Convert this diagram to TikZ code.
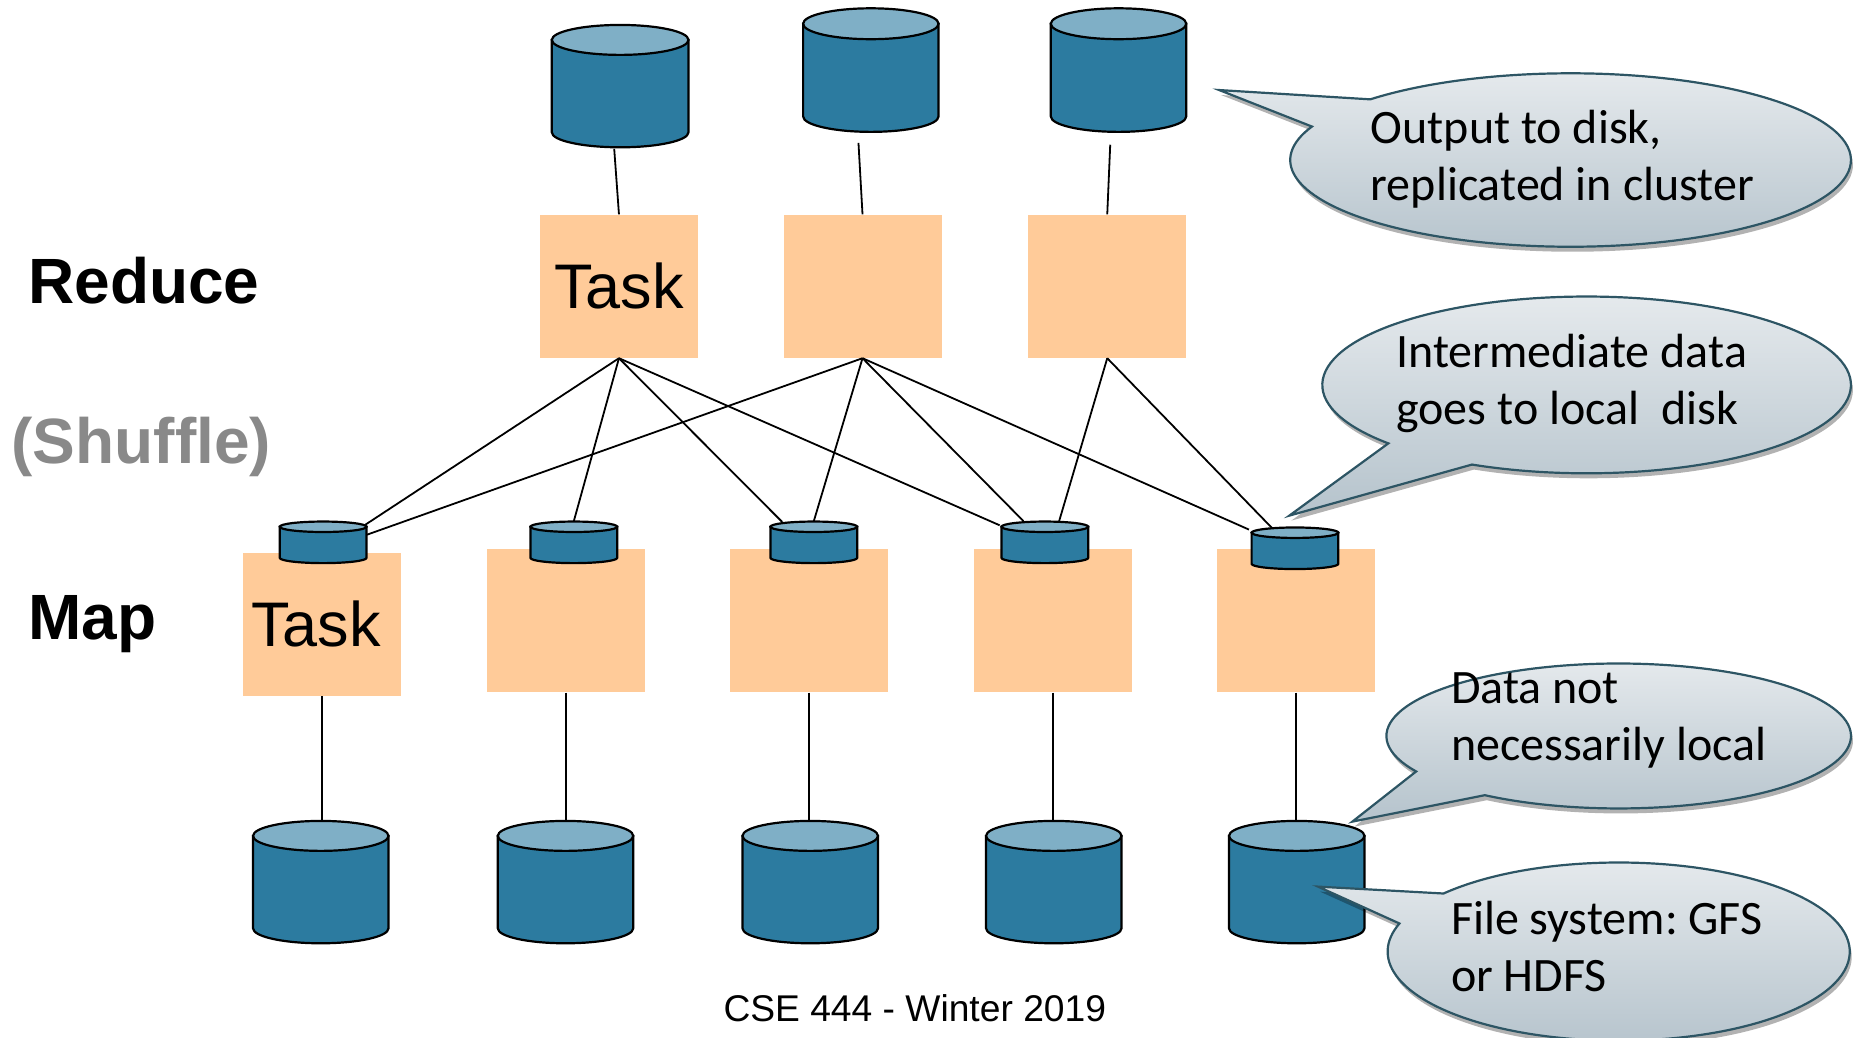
\documentclass[tikz,border=0pt]{standalone}
\usepackage{fontspec}
\setmainfont{Liberation Sans}
\newfontfamily\calfont{Carlito}
\usetikzlibrary{calc,shadows}
\definecolor{boxfill}{RGB}{255,203,153}
\definecolor{cylbody}{RGB}{44,123,160}
\definecolor{cyltop}{RGB}{127,175,198}
\definecolor{shufgray}{RGB}{137,137,137}
\definecolor{callborder}{RGB}{45,85,100}
\definecolor{calltop}{RGB}{231,235,238}
\definecolor{callbot}{RGB}{181,195,204}
\frenchspacing
\newcommand{\dbcyl}[6]{%
  \node[cylframe, minimum width={2*#4*0.594pt}, minimum height={#5*0.594pt}] (#1) at (#2,{-(#3+#5/2)}) {};
  \filldraw[cylbodystyle] ({#2-#4},{-(#3+#6)}) -- ({#2-#4},{-(#3+#5-#6)}) arc[start angle=180,end angle=360,x radius=#4,y radius=#6] -- ({#2+#4},{-(#3+#6)}) -- cycle;
  \filldraw[cyltopstyle] (#2,{-(#3+#6)}) ellipse[x radius=#4, y radius=#6];
}
\newcommand{\twol}[3]{\vtop{\baselineskip=#1\hbox{#2}\hbox{#3}}}
\begin{document}
\begin{tikzpicture}[x=0.594pt, y=0.594pt,
  cylframe/.style={inner sep=0pt, draw=none},
  cylbodystyle/.style={fill=cylbody, draw=black, line width=1.1pt},
  cyltopstyle/.style={fill=cyltop, draw=black, line width=1.1pt},
  taskbox/.style={fill=boxfill, draw=none, inner sep=0pt, minimum width=79pt, minimum height=71.5pt, font=\fontsize{31.5}{36}\selectfont},
  conn/.style={draw=black, line width=0.9pt},
  lbl/.style={inner sep=0pt, anchor=base west, font=\bfseries\fontsize{32}{36}\selectfont},
  bubble/.style={draw=callborder, line width=1.1pt, top color=calltop, bottom color=callbot,
     drop shadow={shadow xshift=1pt, shadow yshift=-2.5pt, opacity=0.3, fill=black}},
  calltext/.style={inner sep=0pt, anchor=base west, font=\calfont\fontsize{24}{28}\selectfont}
]
\useasboundingbox (0,0) rectangle (1563.1,-873.7);

% labels
\node[lbl] (reduce) at (23.5,-255.3) {Reduce};
\node[lbl, text=shufgray] (shuffle) at (9.5,-390) {(Shuffle)};
\node[lbl] (map) at (23.5,-538) {Map};

% task boxes
\node[taskbox] (r1) at (521,-241) {Task};
\node[taskbox] (r2) at (726,-241) {};
\node[taskbox] (r3) at (932,-241) {};
\node[taskbox] (m1) at (271,-525.5) {\hspace*{-6pt}Task};
\node[taskbox] (m2) at (476.5,-522.5) {};
\node[taskbox] (m3) at (681,-522.5) {};
\node[taskbox] (m4) at (886,-522.5) {};
\node[taskbox] (m5) at (1091,-522.5) {};

% cylinders
\dbcyl{t1}{522}{21}{57.5}{103}{12.6}
\dbcyl{t2}{733}{7}{57}{104}{13}
\dbcyl{t3}{941.5}{7}{57}{104}{13}
\dbcyl{s1}{272}{439}{36.5}{35}{4.4}
\dbcyl{s2}{483}{439}{36.5}{35}{4.4}
\dbcyl{s3}{685}{439}{36.5}{35}{4.4}
\dbcyl{s4}{879.5}{439}{36.5}{35}{4.4}
\dbcyl{s5}{1090}{444}{36.5}{35}{4.4}
\dbcyl{b1}{270}{691}{57}{103}{12.6}
\dbcyl{b2}{476}{691}{57}{103}{12.6}
\dbcyl{b3}{682}{691}{57}{103}{12.6}
\dbcyl{b4}{887}{691}{57}{103}{12.6}
\dbcyl{b5}{1091.5}{691}{57}{103}{12.6}

% output connectors
\draw[conn] ($(t1.south)+(-5,-1)$) -- (r1.north);
\draw[conn] ($(t2.south)+(-10.4,-9)$) -- (r2.north);
\draw[conn] ($(t3.south)+(-7,-10.5)$) -- (r3.north);

% shuffle connectors
\draw[conn] (r1.south) -- ($(s1.north east)+(-1.3,-3)$);
\draw[conn] (r2.south) -- ($(s1.north east)+(0.1,-11.4)$);
\draw[conn] (r1.south) -- (s2.north);
\draw[conn] (r1.south) -- ($(s3.north)+(-26.6,-0.7)$);
\draw[conn] (r2.south) -- (s3.north);
\draw[conn] (r1.south) -- ($(s4.north west)+(-1.2,-3.5)$);
\draw[conn] (r2.south) -- ($(s4.north)+(-18,0)$);
\draw[conn] (r3.south) -- ($(s4.north)+(12,0)$);
\draw[conn] (r2.south) -- ($(s5.north west)+(-1.9,-2.1)$);
\draw[conn] (r3.south) -- ($(s5.north)+(-19.6,-0.5)$);

% map input connectors
\draw[conn] (m1.south) -- (m1.south |- b1.north);
\draw[conn] (m2.south) -- (m2.south |- b2.north);
\draw[conn] (m3.south) -- (m3.south |- b3.north);
\draw[conn] (m4.south) -- (m4.south |- b4.north);
\draw[conn] (m5.south) -- (m5.south |- b5.north);

% callouts
\coordinate (ce1) at (1322,-134.7);
\coordinate (tip1) at (1026.2,-75.8);
\path[bubble] ($(ce1)+(-224.4:236 and 73)$) arc[start angle=-224.4, end angle=-562.7, x radius=236, y radius=73] -- (tip1) -- cycle;
\coordinate (ce2) at (1335.5,-324);
\coordinate (tip2) at (1085.3,-434);
\path[bubble] ($(ce2)+(-138.6:222.5 and 74.4)$) arc[start angle=-138.6, end angle=-475.7, x radius=222.5, y radius=74.4] -- (tip2) -- cycle;
\coordinate (ce3) at (1362.5,-619.5);
\coordinate (tip3) at (1138.3,-691.6);
\path[bubble] ($(ce3)+(-150.7:195.5 and 61)$) arc[start angle=-150.7, end angle=-485.2, x radius=195.5, y radius=61] -- (tip3) -- cycle;
\coordinate (ce4) at (1362.5,-801);
\coordinate (tip4) at (1109.4,-746.3);
\path[bubble] ($(ce4)+(-220.7:194.5 and 75)$) arc[start angle=-220.7, end angle=-558.4, x radius=194.5, y radius=75] -- (tip4) -- cycle;

\node[calltext] (n1) at (1153.5,-120.6) {\twol{28.6pt}{Output to disk,}{replicated in cluster}};
\node[calltext] (n2) at (1175,-309) {\twol{28.6pt}{Intermediate data}{goes to local\ \ disk}};
\node[calltext] (n3) at (1221,-592) {\twol{28.6pt}{Data not}{necessarily local}};
\node[calltext] (n4) at (1221,-786.4) {\twol{28.6pt}{File system: GFS}{or HDFS}};

% footer
\node[inner sep=0pt, anchor=base, font=\fontsize{18.6}{22}\selectfont] (footer) at (770,-860) {CSE 444 - Winter 2019};
\end{tikzpicture}
\end{document}
